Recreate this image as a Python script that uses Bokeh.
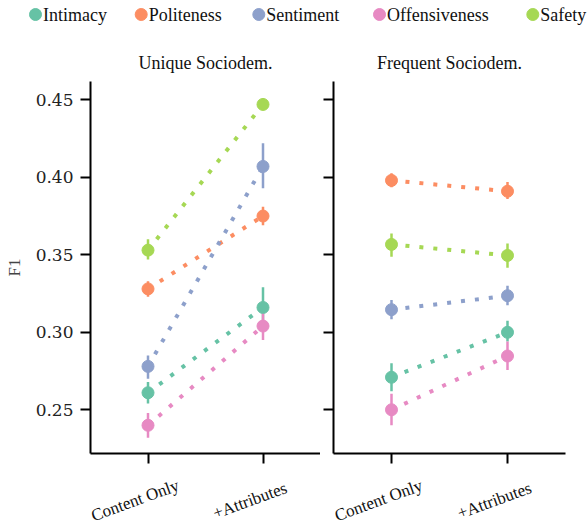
from bokeh.plotting import figure
from bokeh.models import (Range1d, FactorRange, ColumnDataSource, NumeralTickFormatter,
                          CustomLabelingPolicy)
from bokeh.layouts import column, row
from bokeh.embed import file_html
from bokeh.resources import INLINE
from bokeh.core.properties import value

categories = ["Content Only", "+Attributes"]
tasks = ["Intimacy", "Politeness", "Sentiment", "Offensiveness", "Safety"]
colors = ["#66c2a5", "#fc8d62", "#8da0cb", "#e78ac3", "#a6d854"]
panel_titles = ["Unique Sociodem.", "Frequent Sociodem."]
y_ticks = [0.25, 0.30, 0.35, 0.40, 0.45]

# Unique Sociodem. (mean, lower, upper) per task
unique_mean = [[0.261, 0.316], [0.328, 0.375], [0.278, 0.407], [0.240, 0.304], [0.353, 0.447]]
unique_low = [[0.254, 0.303], [0.323, 0.369], [0.270, 0.393], [0.232, 0.295], [0.347, 0.445]]
unique_high = [[0.268, 0.329], [0.333, 0.381], [0.285, 0.422], [0.248, 0.312], [0.360, 0.449]]

# Frequent Sociodem.
frequent_mean = [[0.271, 0.300], [0.398, 0.391], [0.3146, 0.3236], [0.250, 0.2847], [0.3567, 0.3496]]
frequent_low = [[0.262, 0.294], [0.3935, 0.386], [0.3084, 0.3174], [0.240, 0.2757], [0.3487, 0.3416]]
frequent_high = [[0.280, 0.3075], [0.4026, 0.397], [0.3208, 0.330], [0.2603, 0.294], [0.3638, 0.3573]]

SERIF = "'Liberation Serif', serif"
TICKFONT = "'DejaVu Serif', serif"

Y0, Y1 = 0.2218, 0.4618
y_range = Range1d(Y0, Y1)

HIDE = "for (let i = 0; i < indices.size; i++) { indices.set(i, false) }\nreturn indices"

# layout constants (pixels)
LEFT_B = [90, 13]
RIGHT_B = [0, 10]
FRAME_W = [230, 232]
FRAME_H = 372
BOT_B = 12
HEAD_H = 81
HEAD_W = 588
STRIP_H = 61


def make_panel(k, means, lows, highs):
    first = k == 0
    p = figure(
        x_range=FactorRange(*categories, range_padding=0),
        y_range=y_range,
        frame_width=FRAME_W[k],
        frame_height=FRAME_H,
        min_border_left=LEFT_B[k],
        min_border_right=RIGHT_B[k],
        min_border_top=0,
        min_border_bottom=BOT_B,
        toolbar_location=None,
        output_backend="svg",
    )
    p.outline_line_color = None
    p.xgrid.grid_line_color = None
    p.ygrid.grid_line_color = None
    p.background_fill_color = "white"
    p.border_fill_color = "white"

    for ax in (p.xaxis[0], p.yaxis[0]):
        ax.axis_line_width = 2
        ax.axis_line_color = "black"
        ax.major_tick_line_width = 2
        ax.major_tick_line_color = "black"
        ax.major_tick_out = 10
        ax.major_tick_in = 0
        ax.minor_tick_line_color = None
    p.yaxis.ticker = y_ticks
    p.yaxis.formatter = NumeralTickFormatter(format="0.00")
    p.yaxis.major_label_text_font = TICKFONT
    p.yaxis.major_label_text_font_size = "17px"
    p.yaxis.major_label_text_color = "#222222"
    p.yaxis.major_label_standoff = 7
    if first:
        p.yaxis.axis_label = "F1"
        p.yaxis.axis_label_text_font = SERIF
        p.yaxis.axis_label_text_font_size = "17px"
        p.yaxis.axis_label_text_font_style = "normal"
        p.yaxis.axis_label_standoff = 9
    else:
        p.yaxis.major_label_text_font_size = "0px"
        p.yaxis.major_label_standoff = 0
        p.yaxis.major_label_policy = CustomLabelingPolicy(code=HIDE)

    # category names are drawn rotated in a strip below (see make_strip)
    p.xaxis.major_label_text_font_size = "0px"
    p.xaxis.major_label_standoff = 0
    p.xaxis.major_label_policy = CustomLabelingPolicy(code=HIDE)

    for i, task in enumerate(tasks):
        src = ColumnDataSource(dict(x=categories, y=means[i], lo=lows[i], hi=highs[i]))
        p.line("x", "y", source=src, line_color=colors[i], line_width=4, line_dash="4 10")
        p.segment("x", "lo", "x", "hi", source=src, line_color=colors[i], line_width=2.5)
        p.scatter("x", "y", source=src, size=12, fill_color=colors[i], line_color=colors[i])
    return p


def bare(width, height, xr, yr):
    f = figure(width=width, height=height, x_range=xr, y_range=yr,
               x_axis_type=None, y_axis_type=None, toolbar_location=None,
               output_backend="svg", min_border=0)
    f.outline_line_color = None
    f.xgrid.grid_line_color = None
    f.ygrid.grid_line_color = None
    return f


def make_strip(k):
    # same horizontal scale as the panel's factor axis: one unit per category
    unit = FRAME_W[k] / len(categories)
    width = LEFT_B[k] + FRAME_W[k] + RIGHT_B[k]
    s = bare(width, STRIP_H,
             Range1d(-LEFT_B[k] / unit, len(categories) + RIGHT_B[k] / unit),
             Range1d(0, STRIP_H))
    src = ColumnDataSource(dict(x=[i + 0.5 for i in range(len(categories))],
                                y=[STRIP_H - 35] * len(categories), t=categories))
    s.text("x", "y", text="t", source=src, angle=0.35, x_offset=-13,
           text_align="center", text_baseline="middle", text_font=value(SERIF),
           text_font_size="17px", text_color="#111111")
    return s


p1 = make_panel(0, unique_mean, unique_low, unique_high)
p2 = make_panel(1, frequent_mean, frequent_low, frequent_high)
s1 = make_strip(0)
s2 = make_strip(1)

# header strip: legend + panel titles
head = bare(HEAD_W, HEAD_H, Range1d(0, HEAD_W), Range1d(0, HEAD_H))
legend_x = [35, 140.7, 258.3, 379, 532.3]
lsrc = ColumnDataSource(dict(x=legend_x, tx=[v + 7.5 for v in legend_x], y=[HEAD_H - 14] * 5,
                             label=tasks, color=colors))
head.scatter("x", "y", source=lsrc, size=12, fill_color="color", line_color="color")
head.text("tx", "y", text="label", source=lsrc, text_font=value(SERIF),
          text_font_size="18px", text_baseline="middle", text_align="left",
          text_color="#111111")
title_x = [LEFT_B[0] + FRAME_W[0] / 2,
           LEFT_B[0] + FRAME_W[0] + RIGHT_B[0] + LEFT_B[1] + FRAME_W[1] / 2]
tsrc = ColumnDataSource(dict(x=title_x, y=[HEAD_H - 62] * 2, t=panel_titles))
head.text("x", "y", text="t", source=tsrc, text_font=value(SERIF),
          text_font_size="18px", text_baseline="middle", text_align="center",
          text_color="#111111")

layout = column(head, row(p1, p2), row(s1, s2))
open("out.html", "w").write(file_html(layout, INLINE))
